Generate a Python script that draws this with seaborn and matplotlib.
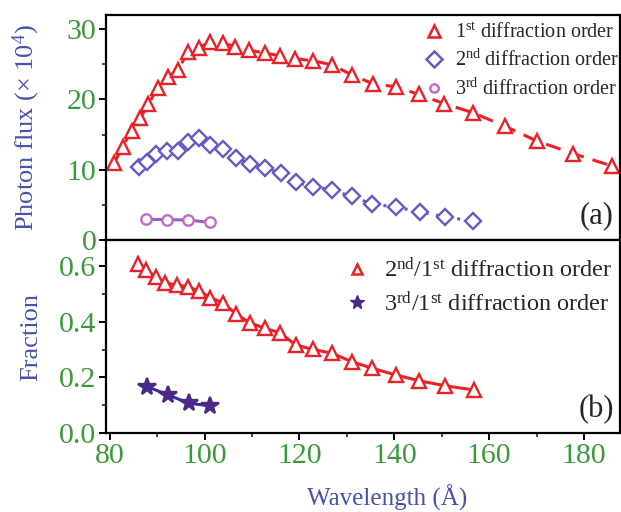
import matplotlib
matplotlib.use("Agg")
import matplotlib.pyplot as plt
from matplotlib.lines import Line2D
from matplotlib.ticker import MultipleLocator, FormatStrFormatter
import seaborn as sns

# (a) photon flux, x 10^4
wl_first = [80.9, 82.7, 84.6, 86.4, 88.1, 90.1, 92.2, 94.4, 96.5, 98.8, 101.1, 103.8,
            106.5, 109.3, 112.7, 115.9, 119.0, 122.9, 126.9, 131.0, 135.6, 140.3,
            145.2, 150.5, 156.6, 163.3, 170.0, 177.7, 186.0]
flux_first = [10.9, 13.3, 15.5, 17.3, 19.3, 21.6, 23.2, 24.2, 26.8, 27.3, 28.2, 28.0,
              27.5, 27.0, 26.6, 26.2, 25.8, 25.5, 24.9, 23.5, 22.2, 21.8,
              20.7, 19.4, 18.1, 16.2, 14.1, 12.3, 10.5]

wl_second = [86.2, 87.9, 89.8, 92.0, 94.4, 96.5, 98.8, 101.2, 103.9, 106.7, 109.5,
             112.7, 116.1, 119.2, 122.9, 126.9, 131.0, 135.4, 140.3, 145.4, 150.7, 156.6]
flux_second = [10.4, 11.1, 12.3, 12.6, 12.7, 14.0, 14.5, 13.5, 13.0, 11.6, 10.8,
               10.2, 9.5, 8.2, 7.6, 7.1, 6.2, 5.1, 4.7, 4.0, 3.3, 2.7]

wl_third = [87.7, 92.1, 96.5, 101.1]
flux_third = [2.94, 2.9, 2.85, 2.5]

# (b) fractions
wl_ratio21 = [86.0, 87.7, 89.7, 91.7, 94.1, 96.5, 98.8, 101.2, 103.8, 106.7, 109.5,
              112.7, 115.9, 119.2, 122.9, 126.9, 131.0, 135.4, 140.3, 145.3, 150.7, 156.8]
ratio21 = [0.608, 0.587, 0.563, 0.541, 0.533, 0.527, 0.511, 0.488, 0.469, 0.428, 0.397,
           0.377, 0.361, 0.317, 0.301, 0.287, 0.257, 0.233, 0.209, 0.188, 0.170, 0.155]

wl_ratio31 = [87.9, 92.3, 96.7, 101.2]
ratio31 = [0.167, 0.137, 0.107, 0.098]

RED = "#ec2027"
DIAMOND = "#6a56c4"
CIRCLE = "#c36bc6"
CIRCLE_LINE = "#9460c8"
STAR = "#4a2a86"
STAR_LINE = "#3b2c9c"
GREEN = "#3a9a3a"
BLUE = "#4552aa"

sns.set_theme(style="ticks")
plt.rcParams["font.family"] = ["Liberation Serif", "DejaVu Serif"]
plt.rcParams["mathtext.fontset"] = "custom"
plt.rcParams["mathtext.rm"] = "Liberation Serif"
plt.rcParams["mathtext.it"] = "Liberation Serif:italic"
plt.rcParams["mathtext.bf"] = "Liberation Serif:bold"

fig = plt.figure(figsize=(6.21, 5.12), dpi=100)
ax1 = fig.add_axes([0.1707, 0.5312, 0.8277, 0.4395])
ax2 = fig.add_axes([0.1707, 0.1543, 0.8277, 0.3769], sharex=ax1)

common = dict(errorbar=None, markeredgewidth=1.7)

sns.lineplot(x=wl_first, y=flux_first, ax=ax1, color=RED, lw=2.2, linestyle=(0, (5, 3)),
             marker="^", markersize=10.5, markerfacecolor="white", markeredgecolor=RED, **common)
sns.lineplot(x=wl_second, y=flux_second, ax=ax1, color=DIAMOND, lw=2.2, linestyle=(0, (1, 2.5)),
             marker="D", markersize=8.5, markerfacecolor="white", markeredgecolor=DIAMOND, **common)
sns.lineplot(x=wl_third, y=flux_third, ax=ax1, color=CIRCLE_LINE, lw=2.2,
             marker="o", markersize=7.5, markerfacecolor="white", markeredgecolor=CIRCLE, **common)

sns.lineplot(x=wl_ratio21, y=ratio21, ax=ax2, color=RED, lw=2.2,
             marker="^", markersize=9.5, markerfacecolor="white", markeredgecolor=RED, **common)
sns.lineplot(x=wl_ratio31, y=ratio31, ax=ax2, color=STAR_LINE, lw=2.2,
             marker="*", markersize=13, markerfacecolor=STAR, markeredgecolor=STAR, **common)

ax1.set_xlim(79.2, 187.6)
ax1.set_ylim(0, 32)
ax2.set_ylim(0, 0.695)

ax1.yaxis.set_major_locator(MultipleLocator(10))
ax1.yaxis.set_minor_locator(MultipleLocator(5))
ax2.yaxis.set_major_locator(MultipleLocator(0.2))
ax2.yaxis.set_minor_locator(MultipleLocator(0.1))
ax2.xaxis.set_major_locator(MultipleLocator(20))
ax2.xaxis.set_minor_locator(MultipleLocator(10))
ax2.yaxis.set_major_formatter(FormatStrFormatter("%.1f"))

for ax in (ax1, ax2):
    for side in ax.spines.values():
        side.set_visible(True)
        side.set_linewidth(1.6)
        side.set_color("black")
    ax.tick_params(which="major", direction="out", length=5, width=1.4,
                   labelsize=21.5, colors="black", pad=2)
    ax.tick_params(which="minor", direction="out", length=3, width=1.2)
    ax.tick_params(axis="both", labelcolor=GREEN)
ax1.tick_params(axis="x", labelbottom=False)

ax1.set_ylabel("Photon flux (× 10$^{4}$)", fontsize=19, color=BLUE)
ax2.set_ylabel("Fraction", fontsize=19, color=BLUE)
ax2.set_xlabel("Wavelength (Å)", fontsize=18, color=BLUE)
ax1.yaxis.set_label_coords(-0.125, 0.5)
ax2.yaxis.set_label_coords(-0.125, 0.5)
ax2.xaxis.set_label_coords(0.547, -0.265)

ax1.text(0.988, 0.11, "(a)", transform=ax1.transAxes, ha="right", va="center", fontsize=22)
ax2.text(0.988, 0.12, "(b)", transform=ax2.transAxes, ha="right", va="center", fontsize=22)

h1 = [
    Line2D([], [], ls="none", marker="^", ms=9, mfc="white", mec=RED, mew=1.8,
           label="1$^{\\mathrm{st}}$ diffraction order"),
    Line2D([], [], ls="none", marker="D", ms=8, mfc="white", mec=DIAMOND, mew=1.8,
           label="2$^{\\mathrm{nd}}$ diffraction order"),
    Line2D([], [], ls="none", marker="o", ms=6, mfc="white", mec=CIRCLE, mew=1.8,
           label="3$^{\\mathrm{rd}}$ diffraction order"),
]
ax1.legend(handles=h1, loc="upper right", bbox_to_anchor=(1.025, 1.026), frameon=False,
           fontsize=14.5, handlelength=1.0, handletextpad=0.55, labelspacing=0.36,
           borderaxespad=0.3)

h2 = [
    Line2D([], [], ls="none", marker="^", ms=7, mfc="white", mec=RED, mew=1.8,
           label="2$^{\\mathrm{nd}}$/1$^{\\mathrm{st}}$ diffraction order"),
    Line2D([], [], ls="none", marker="*", ms=10, mfc=STAR, mec=STAR, mew=1.0,
           label="3$^{\\mathrm{rd}}$/1$^{\\mathrm{st}}$ diffraction order"),
]
ax2.legend(handles=h2, loc="upper right", bbox_to_anchor=(1.017, 0.994), frameon=False,
           fontsize=17.5, handlelength=1.0, handletextpad=0.6, labelspacing=0.36,
           borderaxespad=0.3)

fig.savefig("out.png", dpi=100)
